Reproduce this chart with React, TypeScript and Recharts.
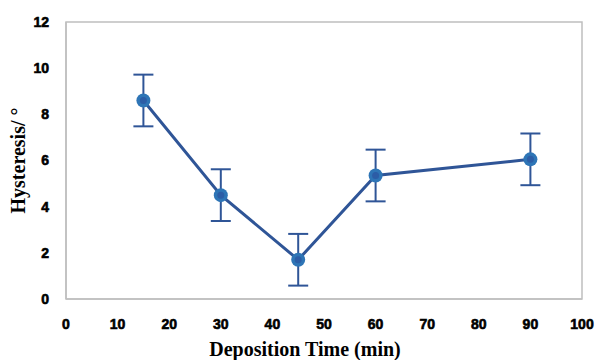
import React from 'react';
import {
  LineChart, Line, XAxis, YAxis, ErrorBar, ReferenceArea,
} from 'recharts';

const TIMES = [15, 30, 45, 60, 90];
const HYSTERESIS = [8.6, 4.5, 1.7, 5.35, 6.05];
const ERRORS = [1.12, 1.12, 1.12, 1.12, 1.12];

const X_TICKS = [0, 10, 20, 30, 40, 50, 60, 70, 80, 90, 100];
const Y_TICKS = [0, 2, 4, 6, 8, 10, 12];
const Y_MINOR_TICKS = [
  0, 0.4, 0.8, 1.2, 1.6, 2, 2.4, 2.8, 3.2, 3.6, 4, 4.4, 4.8, 5.2, 5.6, 6,
  6.4, 6.8, 7.2, 7.6, 8, 8.4, 8.8, 9.2, 9.6, 10, 10.4, 10.8, 11.2, 11.6, 12,
];

const data = TIMES.map((t, i) => ({ time: t, value: HYSTERESIS[i], err: ERRORS[i] }));

const LINE_COLOR = '#2F5597';
const AXIS_COLOR = '#BFBFBF';
const tickStyle = {
  fontFamily: 'Liberation Sans, Arial', fontWeight: 'bold', fontSize: 14,
  fill: '#000', stroke: '#000', strokeWidth: 0.6,
};
const labelStyle = { fontFamily: 'Liberation Serif, Times New Roman', fontWeight: 'bold', fontSize: 20, fill: '#000' };

function Marker(props: any) {
  const { cx, cy } = props;
  if (cx == null || cy == null) return null;
  return (
    <g>
      <circle cx={cx} cy={cy} r={7} fill="#2E75B6" />
      <circle cx={cx} cy={cy} r={3.5} fill="#2C5DA6" />
    </g>
  );
}

export default function App() {
  return (
    <div style={{ position: 'absolute', left: 0, top: 0, background: '#fff' }}>
      <LineChart width={597} height={360} data={data} margin={{ top: 22, right: 15, left: 20, bottom: 4 }}>
        <ReferenceArea x1={0} x2={100} y1={0} y2={12} fill="none" stroke={AXIS_COLOR} strokeWidth={1.5} />
        <XAxis
          dataKey="time"
          type="number"
          domain={[0, 100]}
          ticks={X_TICKS}
          tickLine={false}
          axisLine={{ stroke: AXIS_COLOR, strokeWidth: 1.5 }}
          tick={tickStyle}
          tickMargin={14}
          height={57}
          label={{ value: 'Deposition Time (min)', position: 'insideBottom', offset: 0, dx: -19, style: labelStyle }}
        />
        <XAxis
          xAxisId="minor"
          dataKey="time"
          type="number"
          domain={[0, 100]}
          ticks={X_TICKS}
          mirror
          tick={false}
          axisLine={false}
          tickSize={4}
          tickLine={{ stroke: AXIS_COLOR, strokeWidth: 1.5 }}
          height={0}
        />
        <YAxis
          type="number"
          domain={[0, 12]}
          ticks={Y_TICKS}
          tickLine={false}
          axisLine={{ stroke: AXIS_COLOR, strokeWidth: 1.5 }}
          tick={tickStyle}
          tickMargin={11}
          width={46}
          label={{ value: 'Hysteresis/ °', angle: -90, position: 'insideLeft', offset: 0, dx: -2, style: { ...labelStyle, textAnchor: 'middle' } }}
        />
        <YAxis
          yAxisId="minor"
          type="number"
          domain={[0, 12]}
          ticks={Y_MINOR_TICKS}
          mirror
          tick={false}
          axisLine={false}
          tickSize={4}
          tickLine={{ stroke: AXIS_COLOR, strokeWidth: 1.2 }}
          width={0}
        />
        <Line
          dataKey="value"
          stroke={LINE_COLOR}
          strokeWidth={3}
          dot={<Marker />}
          activeDot={false}
          isAnimationActive={false}
        >
          <ErrorBar dataKey="err" direction="y" width={10} stroke={LINE_COLOR} strokeWidth={2} />
        </Line>
      </LineChart>
    </div>
  );
}
